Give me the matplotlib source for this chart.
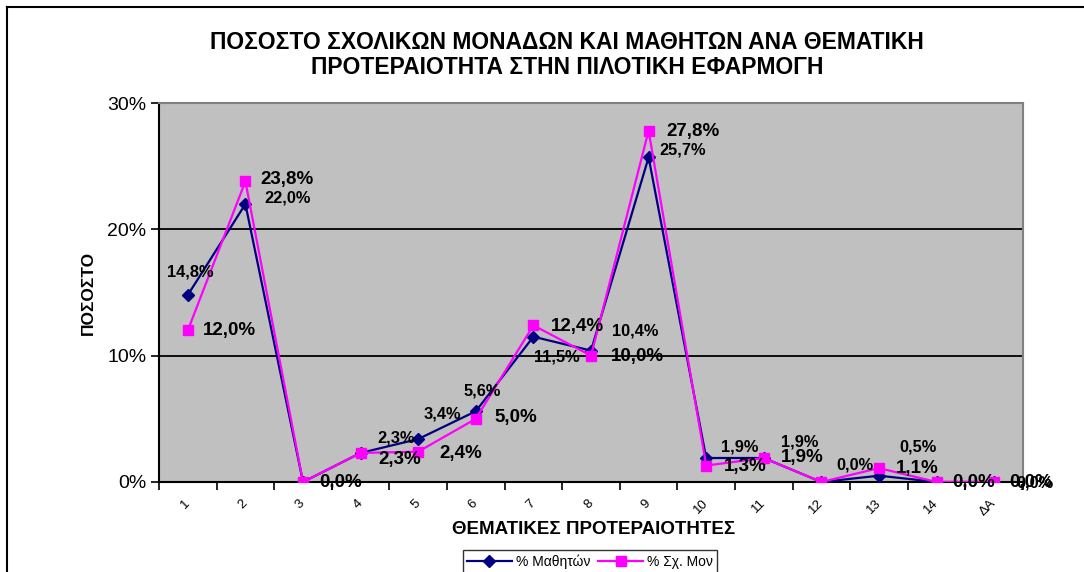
import matplotlib.pyplot as plt
from matplotlib.lines import Line2D
from matplotlib.ticker import FuncFormatter

plt.rcParams['font.family'] = ['Liberation Sans', 'DejaVu Sans']

# Data
categories = ['1', '2', '3', '4', '5', '6', '7', '8', '9', '10', '11', '12', '13', '14', 'ΔΑ']
students = [14.8, 22.0, 0.0, 2.3, 3.4, 5.6, 11.5, 10.4, 25.7, 1.9, 1.9, 0.0, 0.5, 0.0, 0.0]
schools = [12.0, 23.8, 0.0, 2.3, 2.4, 5.0, 12.4, 10.0, 27.8, 1.3, 1.9, 0.0, 1.1, 0.0, 0.0]

# label offsets in pixels (None = no label shown)
stud_off = [(2, 23), (42, 6), None, (36, 15), (24, 25), (6, 20), (23, -20), (44, 20),
            (34, 7), (33, 11), (36, 16), (34, 17), (39, 29), None, (41, -1)]
sch_off = [(42, 0), (42, 2), (38, -1), (39, -7), (43, -2), (40, 1), (44, -1), (46, -1),
           (44, -1), (39, -1), (38, 0), None, (38, 0), (37, -1), (36, -1)]

W, H = 1084, 572
fig = plt.figure(figsize=(W / 100, H / 100), dpi=100)
ax = fig.add_axes([159 / W, 1 - 482 / H, (1023 - 159) / W, (482 - 103) / H])
ax.set_facecolor('#C0C0C0')

x = list(range(len(categories)))
ax.plot(x, students, color='#000080', lw=1.6, marker='D', ms=6, label='% Μαθητών', zorder=3)
ax.plot(x, schools, color='#FF00FF', lw=1.6, marker='s', ms=7, label='% Σχ. Μον', zorder=4)


def fmt(v):
    return f'{v:.1f}%'.replace('.', ',')


for xi, v, off in zip(x, students, stud_off):
    if off is None:
        continue
    ax.annotate(fmt(v), (xi, v), xytext=off, textcoords='offset pixels',
                ha='center', va='center', fontsize=11.8, fontweight='bold', zorder=5,
                annotation_clip=False)
for xi, v, off in zip(x, schools, sch_off):
    if off is None:
        continue
    ax.annotate(fmt(v), (xi, v), xytext=off, textcoords='offset pixels',
                ha='center', va='center', fontsize=13.5, fontweight='bold', zorder=5,
                annotation_clip=False)

ax.set_xlim(-0.5, len(categories) - 0.5)
ax.set_ylim(0, 30)
ax.set_yticks([0, 10, 20, 30])
ax.yaxis.set_major_formatter(FuncFormatter(lambda v, p: f'{v:.0f}%'))
ax.tick_params(axis='y', direction='out', length=6, width=1.2, labelsize=14, pad=3)
ax.grid(axis='y', color='black', lw=1.3)
ax.set_axisbelow(True)

ax.set_xticks(x)
ax.set_xticklabels(categories, rotation=45, ha='right', va='center', rotation_mode='anchor',
                   fontsize=9.5)
ax.tick_params(axis='x', which='major', length=0, pad=14)
ax.set_xticks([i - 0.5 for i in range(len(categories) + 1)], minor=True)
ax.tick_params(axis='x', which='minor', direction='out', length=6, width=1.2)

for s in ['top', 'right']:
    ax.spines[s].set_color('#808080')
    ax.spines[s].set_linewidth(1.5)
for s in ['left', 'bottom']:
    ax.spines[s].set_color('black')
    ax.spines[s].set_linewidth(1.5)

fig.text(567 / W, 1 - 55 / H,
         'ΠΟΣΟΣΤΟ ΣΧΟΛΙΚΩΝ ΜΟΝΑΔΩΝ ΚΑΙ ΜΑΘΗΤΩΝ ΑΝΑ ΘΕΜΑΤΙΚΗ\nΠΡΟΤΕΡΑΙΟΤΗΤΑ ΣΤΗΝ ΠΙΛΟΤΙΚΗ ΕΦΑΡΜΟΓΗ',
         ha='center', va='center', fontsize=16.5, fontweight='bold', linespacing=1.12)
fig.text(594 / W, 1 - 530 / H, 'ΘΕΜΑΤΙΚΕΣ ΠΡΟΤΕΡΑΙΟΤΗΤΕΣ', ha='center', va='center',
         fontsize=13.5, fontweight='bold')
fig.text(88 / W, 1 - 293 / H, 'ΠΟΣΟΣΤΟ', ha='center', va='center', rotation=90,
         fontsize=12.5, fontweight='bold')

leg = fig.legend(loc='upper center', bbox_to_anchor=(590 / W, 1 - 550 / H), ncol=2,
                 fontsize=10, frameon=True, fancybox=False, edgecolor='black',
                 handlelength=3.2, columnspacing=0.6, handletextpad=0.3, borderpad=0.3,
                 borderaxespad=0)
leg.get_frame().set_linewidth(1.0)

# outer chart border
fig.add_artist(Line2D([7 / W, 1], [1 - 7 / H, 1 - 7 / H], color='black', lw=1.5))
fig.add_artist(Line2D([7 / W, 7 / W], [0, 1 - 7 / H], color='black', lw=1.5))

fig.savefig('out.png', dpi=100)
